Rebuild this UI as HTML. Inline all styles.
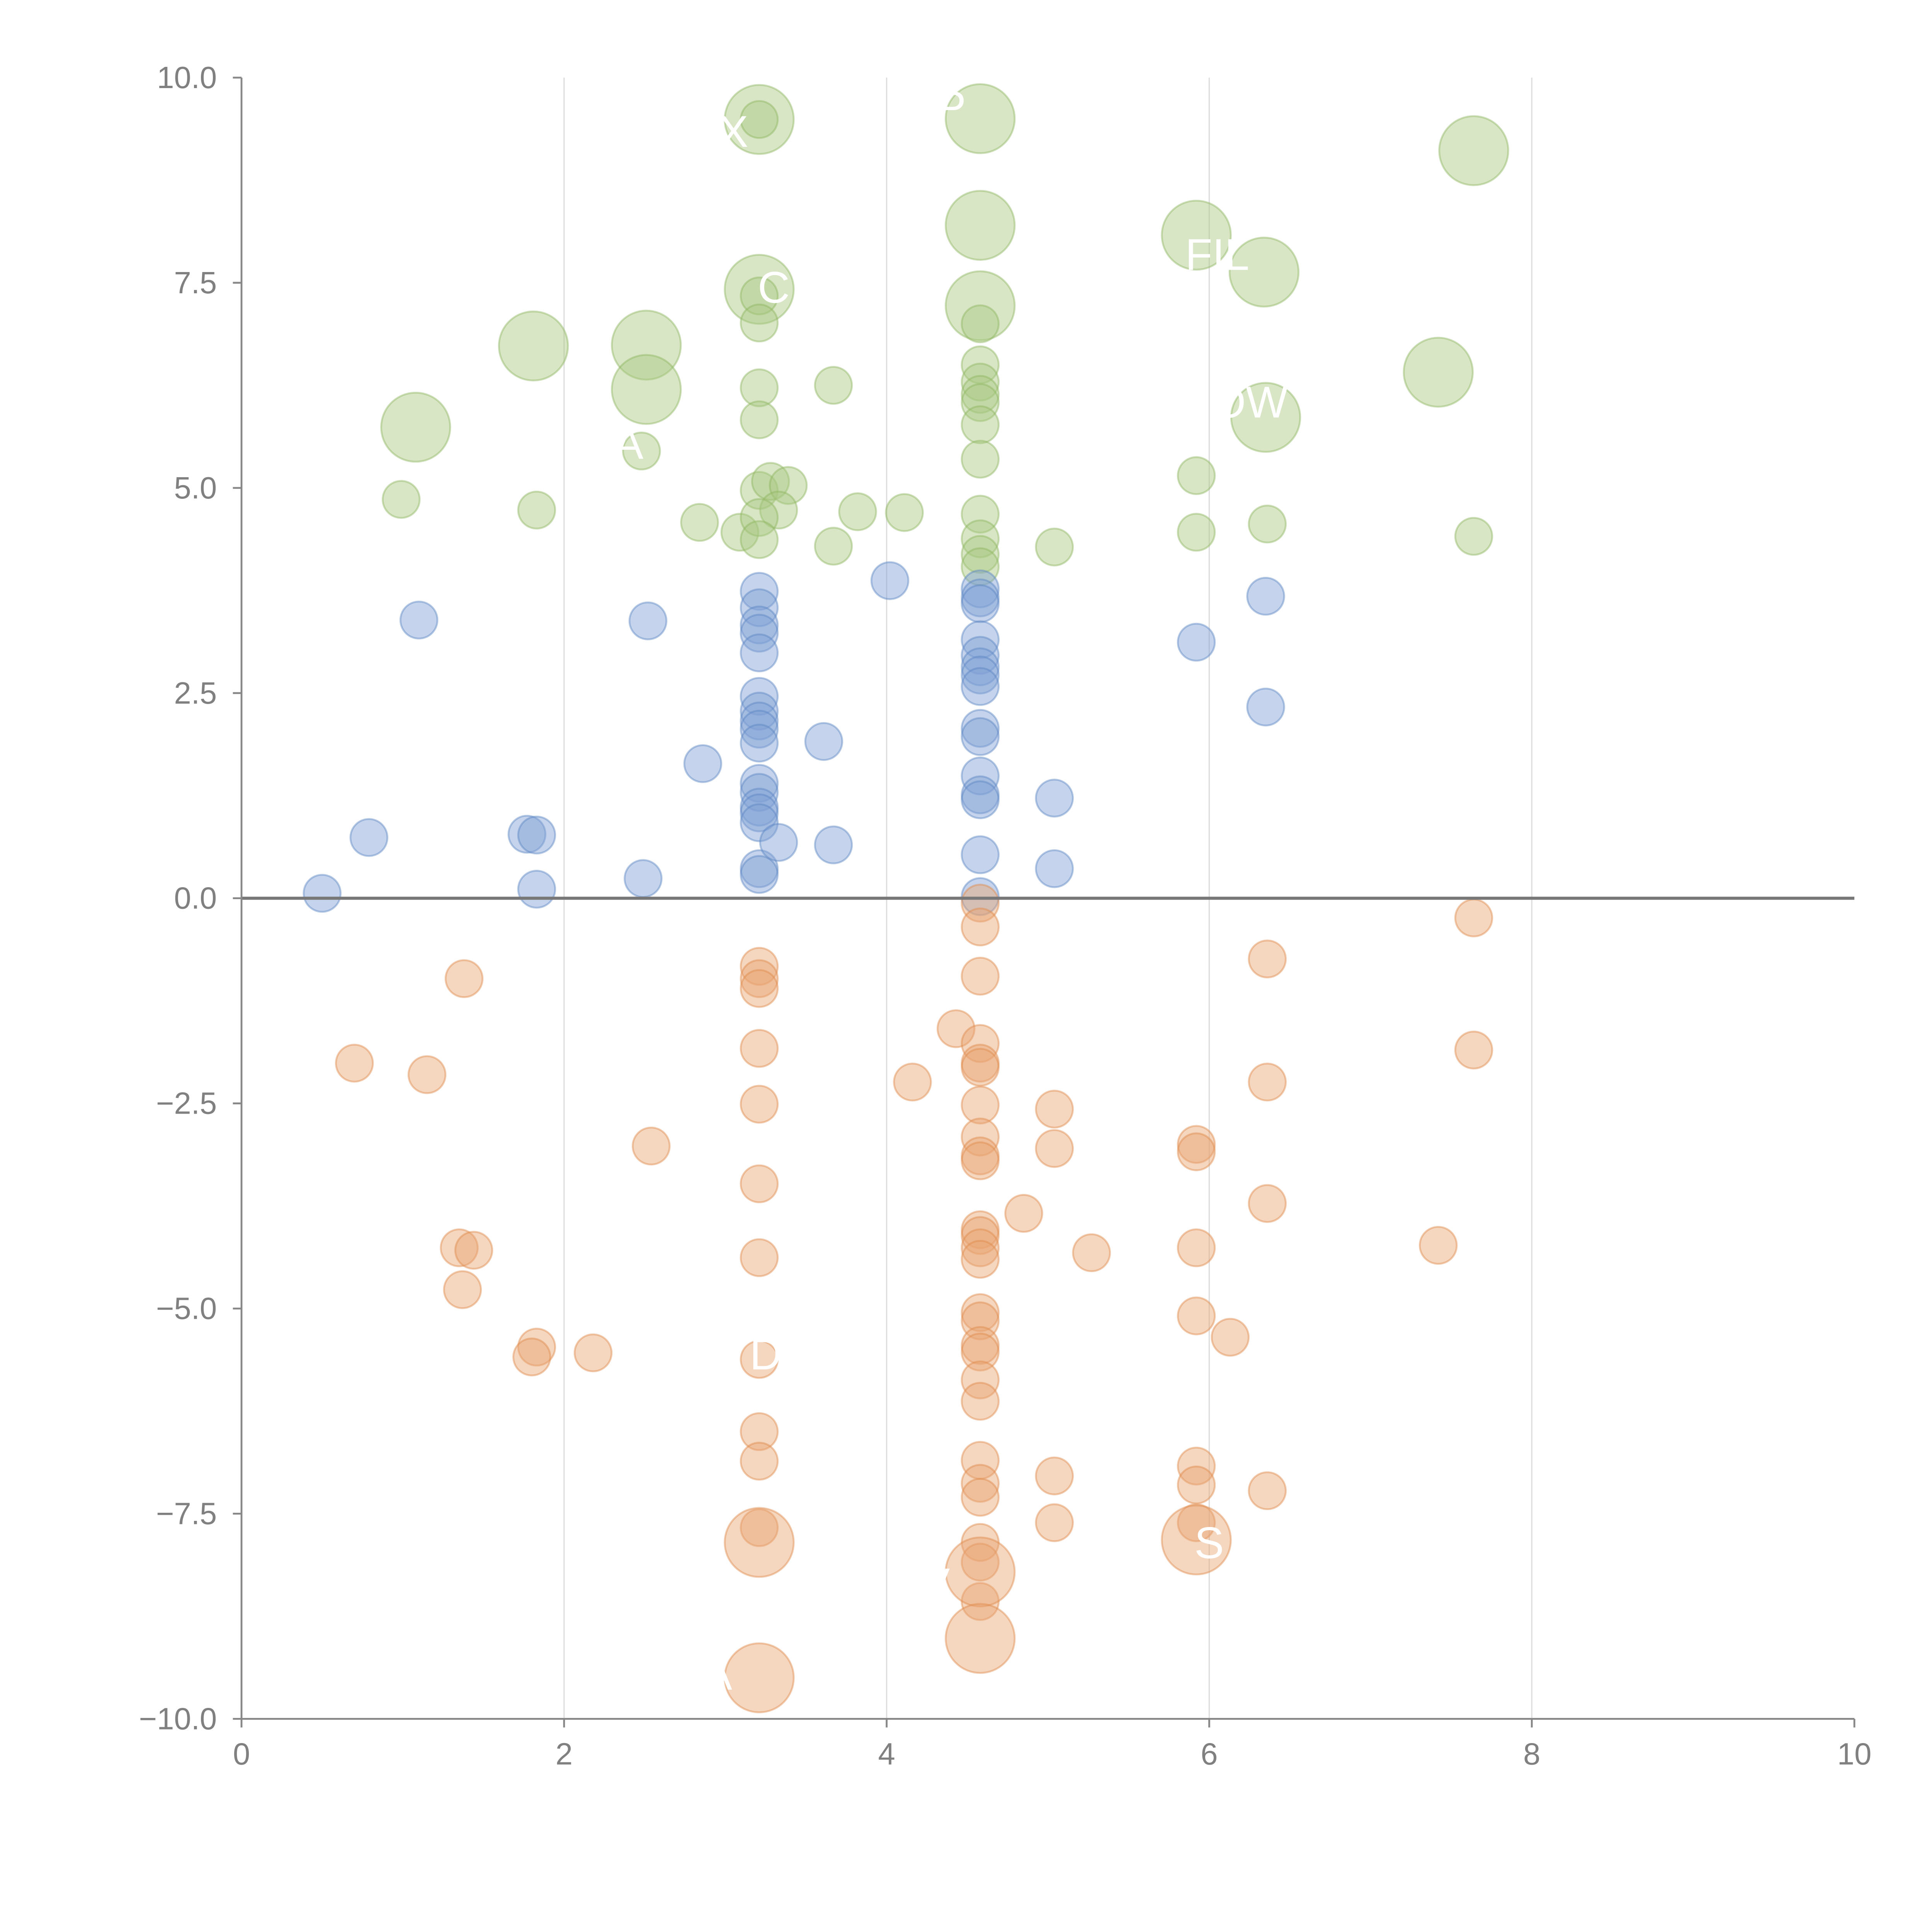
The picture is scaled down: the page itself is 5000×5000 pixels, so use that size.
<!DOCTYPE html>
<html><head><meta charset="utf-8"><style>
html,body{margin:0;padding:0;background:#fff;}
svg{display:block;}
text{font-family:"Liberation Sans",sans-serif;}
</style></head><body>
<svg id="chart" width="5000" height="5000" viewBox="0 0 1568 1568" xmlns="http://www.w3.org/2000/svg">
<g id="grid"></g>
<g id="marks"></g>
<g id="labels"></g>
<g id="axes"></g>
</svg>
<script>
const greenX=[3.21,3.21,4.58,7.64,4.58,5.92,6.34,3.21,4.58,3.21,3.21,4.58,1.81,2.51,2.51,7.42,1.08,6.35,3.67,3.21,3.21,4.58,4.58,4.58,4.58,4.58,4.58,2.48,0.99,1.83,2.84,3.09,3.21,3.28,3.39,3.33,3.21,3.21,3.67,3.82,4.11,4.58,4.58,4.58,4.58,5.04,5.92,5.92,6.36,7.64];
const greenY=[9.49,9.49,9.50,9.11,8.20,8.08,7.63,7.42,7.22,7.34,7.01,7.00,6.73,6.74,6.20,6.41,5.74,5.86,6.25,6.22,5.83,6.50,6.29,6.14,6.04,5.77,5.35,5.45,4.86,4.73,4.58,4.46,4.97,5.08,5.03,4.73,4.64,4.37,4.29,4.71,4.70,4.68,4.38,4.19,4.04,4.28,5.15,4.46,4.56,4.41];
const greenBig=[1,0,1,1,1,1,1,1,1,0,0,0,1,1,1,1,1,1,0,0,0,0,0,0,0,0,0,0,0,0,0,0,0,0,0,0,0,0,0,0,0,0,0,0,0,0,0,0,0,0];
const blueX=[1.10,2.52,4.02,3.21,3.21,3.21,3.21,3.21,3.21,3.21,3.21,3.21,3.21,3.21,3.21,3.21,3.21,3.21,3.21,3.21,2.86,3.61,3.33,3.67,4.58,4.58,4.58,4.58,4.58,4.58,4.58,4.58,4.58,4.58,4.58,4.58,4.58,4.58,4.58,5.04,5.04,5.92,6.35,6.35,0.79,1.77,1.83,1.83,2.49,0.50];
const blueY=[3.39,3.38,3.87,3.74,3.54,3.33,3.23,2.99,2.46,2.28,2.16,2.06,1.89,1.40,1.29,1.11,1.04,0.92,0.36,0.29,1.64,1.91,0.68,0.65,3.77,3.66,3.59,3.15,2.96,2.82,2.72,2.58,2.07,1.97,1.49,1.26,1.20,0.53,0.02,1.22,0.36,3.12,3.68,2.33,0.74,0.78,0.77,0.11,0.24,0.06];
const orangeX=[4.58,4.58,7.64,6.36,1.38,3.21,3.21,3.21,3.21,3.21,3.21,3.21,3.21,3.21,3.21,3.21,4.58,0.70,1.15,4.43,4.58,4.58,4.58,4.58,4.58,4.58,4.58,4.58,4.58,4.58,4.58,4.58,4.58,4.58,4.58,4.58,4.58,4.58,4.58,4.58,4.58,4.58,4.58,4.16,7.64,6.36,5.04,2.54,5.04,5.92,5.92,6.36,4.85,5.27,5.92,7.42,1.35,1.44,1.37,5.92,6.13,1.83,1.80,2.18,5.04,5.04,5.92,5.92,5.92,6.36,3.21,5.92,4.58,4.58,3.21];
const orangeY=[-0.06,-0.35,-0.24,-0.74,-0.98,-0.83,-0.98,-1.10,-1.83,-2.51,-3.48,-4.38,-5.62,-6.50,-6.86,-7.67,-0.95,-2.01,-2.15,-1.59,-1.77,-2.01,-2.06,-2.52,-2.91,-3.14,-3.20,-4.04,-4.11,-4.26,-4.40,-5.05,-5.15,-5.45,-5.53,-5.87,-6.13,-6.85,-7.13,-7.30,-7.85,-8.09,-8.57,-2.24,-1.85,-2.24,-2.57,-3.02,-3.05,-3.00,-3.09,-3.72,-3.84,-4.32,-4.26,-4.23,-4.26,-4.29,-4.77,-5.09,-5.35,-5.47,-5.59,-5.54,-7.04,-7.61,-6.92,-7.15,-7.61,-7.22,-7.85,-7.82,-8.21,-9.02,-9.50];
const orangeBig=orangeX.map((_,i)=>i>=70?1:0);
const xTicks=[0,2,4,6,8,10];
const yTicks=[10,7.5,5,2.5,0,-2.5,-5,-7.5,-10];
const labelText=["X","P","FIL","OW","C","A","D","S","V","A"];
const labelX=[3.05,4.4,6.05,6.25,3.3,2.4,3.25,6.0,4.3,2.95];
const labelY=[9.3,9.6,7.8,6.0,7.4,5.5,-5.6,-7.9,-8.4,-9.5];

const NS="http://www.w3.org/2000/svg";
const X0=196,X1=1505,YT=63,YB=1395;
const sx=v=>X0+(v-0)/10*(X1-X0);
const sy=v=>YB-(v+10)/20*(YB-YT);
function mk(tag,attrs,parent){const e=document.createElementNS(NS,tag);for(const k in attrs)e.setAttribute(k,attrs[k]);parent.appendChild(e);return e;}
const grid=document.getElementById('grid'),marks=document.getElementById('marks'),axes=document.getElementById('axes'),labels=document.getElementById('labels');
[2,4,6,8].forEach(v=>{const l=mk('line',{x1:sx(v),x2:sx(v),y1:YT,y2:YB,stroke:'#dddddd','stroke-width':1},grid);

});
function series(xs,ys,big,fill,stroke,name){xs.forEach((x,i)=>{const c=mk('circle',{cx:sx(x),cy:sy(ys[i]),r:big[i]?28:15,fill:fill,'fill-opacity':0.45,stroke:stroke,'stroke-opacity':0.45,'stroke-width':1.5},marks);

});}
series(greenX,greenY,greenBig,'#a8c880','#8fb560','green-bubble');
series(blueX,blueY,blueX.map(()=>0),'#7fa0d4','#5a84c4','blue-bubble');
series(orangeX,orangeY,orangeBig,'#e8a472','#e0894a','orange-bubble');
labelText.forEach((t,i)=>{const e=mk('text',{x:sx(labelX[i]),y:sy(labelY[i]),fill:'#ffffff','font-size':36,'text-anchor':'middle','dominant-baseline':'middle'},labels);e.textContent=t;

});
const zl=mk('line',{x1:X0,x2:X1,y1:sy(0),y2:sy(0),stroke:'#777','stroke-width':2.5},axes);


const xa=mk('line',{x1:X0,x2:X1,y1:YB,y2:YB,stroke:'#888','stroke-width':1.5},axes);


const ya=mk('line',{x1:X0,x2:X0,y1:YT,y2:YB,stroke:'#888','stroke-width':1.5},axes);


xTicks.forEach(v=>{mk('line',{x1:sx(v),x2:sx(v),y1:YB,y2:YB+7,stroke:'#888','stroke-width':1.5},axes);
const t=mk('text',{x:sx(v),y:YB+37,fill:'#808080','font-size':25,'text-anchor':'middle'},axes);t.textContent=String(v);

});
yTicks.forEach(v=>{mk('line',{x1:X0-7,x2:X0,y1:sy(v),y2:sy(v),stroke:'#888','stroke-width':1.5},axes);
const t=mk('text',{x:X0-20,y:sy(v)+8.5,fill:'#808080','font-size':25,'text-anchor':'end'},axes);t.textContent=(v<0?'\u2212':'')+Math.abs(v).toFixed(1);

});
</script>
</body></html>
